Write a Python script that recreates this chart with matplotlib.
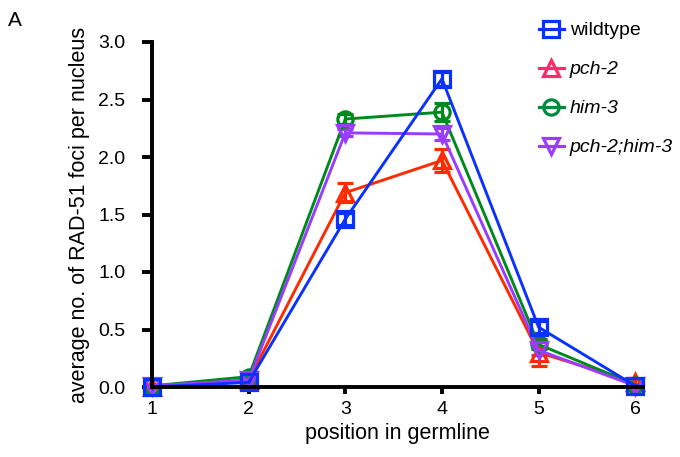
import matplotlib.pyplot as plt
from matplotlib.lines import Line2D

plt.rcParams['font.family'] = ['Liberation Sans', 'DejaVu Sans']

positions = [1, 2, 3, 4, 5, 6]

wildtype = [0.00, 0.04, 1.46, 2.68, 0.52, 0.01]
wildtype_err = [0.01, 0.02, 0.05, 0.06, 0.05, 0.01]

pch2 = [0.00, 0.06, 1.69, 1.97, 0.30, 0.04]
pch2_err = [0.01, 0.03, 0.08, 0.10, 0.12, 0.03]

him3 = [0.01, 0.09, 2.33, 2.39, 0.37, 0.02]
him3_err = [0.01, 0.02, 0.04, 0.08, 0.04, 0.01]

pch2_him3 = [0.01, 0.06, 2.21, 2.20, 0.32, 0.01]
pch2_him3_err = [0.01, 0.02, 0.03, 0.05, 0.04, 0.01]

labels = ['wildtype', 'pch-2', 'him-3', 'pch-2;him-3']

fig = plt.figure(figsize=(6.8, 4.57), dpi=100)
ax = fig.add_axes([152 / 680, 1 - 387 / 457, 491 / 680, 345 / 457])

series = [
    (pch2, pch2_err, '#ff2a00', '^'),
    (him3, him3_err, '#008a1e', 'o'),
    (pch2_him3, pch2_him3_err, '#9a3cff', 'v'),
    (wildtype, wildtype_err, '#0a32ff', 's'),
]
for vals, err, col, mk in series:
    ax.errorbar(positions, vals, yerr=err, color=col, marker=mk, markersize=11,
                markerfacecolor='none', markeredgewidth=2.3, linewidth=2.1,
                capsize=5.5, capthick=2.3, elinewidth=2.3, clip_on=False)

ax.set_xlim(1, 6.08)
ax.set_ylim(0, 3.0)
ax.set_xticks(positions)
ax.set_yticks([0, 0.5, 1.0, 1.5, 2.0, 2.5, 3.0])
ax.set_yticklabels(['0.0', '0.5', '1.0', '1.5', '2.0', '2.5', '3.0'])
for side in ['top', 'right']:
    ax.spines[side].set_visible(False)
for side in ['left', 'bottom']:
    ax.spines[side].set_linewidth(2.8)
ax.tick_params(axis='y', width=2.8, length=7, labelsize=14, pad=12)
ax.tick_params(axis='x', width=2.8, length=5, labelsize=14, pad=5)
ax.set_xlabel('position in germline', fontsize=15.5, labelpad=4)
ax.set_ylabel('average no. of RAD-51 foci per nucleus', fontsize=15.5, labelpad=6)

# legend with its own handles
handle_cols = ['#0a32ff', '#ff2a6a', '#008a3c', '#9a3cff']
markers = ['s', '^', 'o', 'v']
handles = [Line2D([], [], color=c, marker=m, markersize=11, markerfacecolor='none',
                  markeredgewidth=2.3, linewidth=2.3)
           for c, m in zip(handle_cols, markers)]
leg = fig.legend(handles, labels, loc='upper left', bbox_to_anchor=(531 / 680, 1 - 14 / 457),
                 frameon=False, fontsize=14, handlelength=1.3, handletextpad=0.3,
                 labelspacing=1.1, borderaxespad=0)
for i, t in enumerate(leg.get_texts()):
    if i > 0:
        t.set_style('italic')

fig.text(8 / 680, 1 - 20 / 457, 'A', fontsize=15, va='center', ha='left')

fig.savefig('out.png', dpi=100)
